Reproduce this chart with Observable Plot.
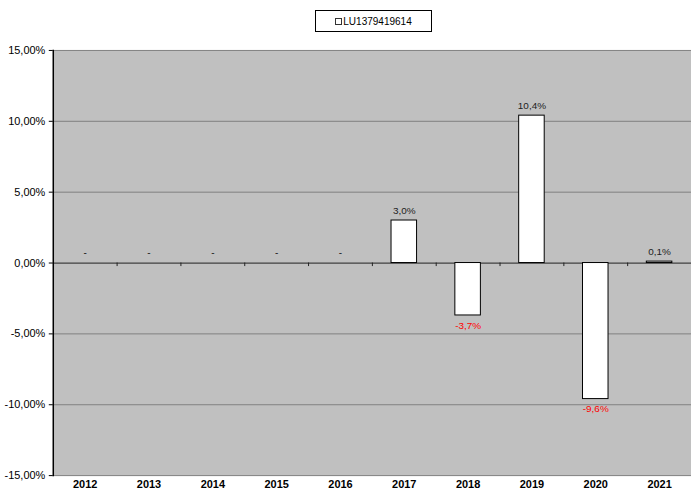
<!DOCTYPE html>
<html><head><meta charset="utf-8">
<script src="https://cdn.jsdelivr.net/npm/d3@7"></script>
<script src="https://cdn.jsdelivr.net/npm/@observablehq/plot@0.6"></script>
<style>
html,body{margin:0;background:#fff;font-family:"Liberation Sans",Arial,sans-serif;overflow:hidden;}
#legend{height:40px;position:relative;}
#legend .box{position:absolute;left:315px;top:10px;width:115px;height:20px;border:1px solid #000;background:#fff;font-size:10px;display:flex;align-items:center;justify-content:center;color:#000;}
#legend .sw{display:inline-block;width:5px;height:5px;border:1px solid #333;background:#fff;margin-right:1px;}
svg{overflow:visible;display:block;}
</style></head><body>
<div id="legend"><div class="box"><span class="sw"></span>LU1379419614</div></div>
<div id="chart"></div>
<script>
const seriesName = "LU1379419614";
const years = ["2012","2013","2014","2015","2016","2017","2018","2019","2020","2021"];
const values = [null, null, null, null, null, 3.0, -3.7, 10.4, -9.6, 0.1];
const yTicks = [-15, -10, -5, 0, 5, 10, 15];

const data = years.map((y, i) => ({year: y, value: values[i]}));
const present = data.filter(d => d.value != null);
const missing = data.filter(d => d.value == null);
const fmtAxis = v => v.toFixed(2).replace(".", ",") + "%";
const fmtVal = v => v.toFixed(1).replace(".", ",") + "%";

const W = 694, H = 450, ML = 53, MR = 0;
const step = (W - ML - MR) / years.length;

const chart = Plot.plot({
  width: W, height: H,
  marginTop: 10, marginBottom: 13, marginLeft: ML, marginRight: MR,
  style: {fontFamily: '"Liberation Sans", Arial, sans-serif', fontSize: "11px", background: "#fff", color: "#000"},
  x: {domain: years, paddingInner: 0.6, paddingOuter: 0.3, round: false, axis: null, label: null},
  y: {domain: [-15, 15], axis: null, label: null},
  marks: [
    Plot.frame({fill: "#c0c0c0", stroke: null}),
    Plot.ruleY(yTicks.filter(t => t !== 0), {stroke: "#808080", strokeWidth: 1}),
    Plot.ruleY([0], {stroke: "#404040", strokeWidth: 1.2}),
    Plot.ruleX(years.slice(1), {x: d => d, y1: 0, y2: -0.25, dx: -step / 2, stroke: "#222"}),
    Plot.barY(present, {x: "year", y: "value", fill: "#fff", stroke: "#000", strokeWidth: 1}),
    Plot.text(present.filter(d => d.value >= 0), {x: "year", y: "value", text: d => fmtVal(d.value), dy: -10, fontSize: 10, fill: "#222"}),
    Plot.text(present.filter(d => d.value < 0), {x: "year", y: "value", text: d => fmtVal(d.value), dy: 10, fontSize: 10, fill: "#ff0000"}),
    Plot.text(missing, {x: "year", y: 0, text: d => "-", dy: -10, fontSize: 10, fill: "#000"}),
    Plot.frame({anchor: "left", stroke: "#000", strokeWidth: 1.5}),
    Plot.axisY({ticks: yTicks, tickFormat: fmtAxis, tickSize: 4, tickPadding: 4, stroke: "#000", fill: "#000", fontSize: 11, label: null}),
    Plot.axisX({tickSize: 0, tickPadding: 5, fontWeight: "bold", fontSize: 11, fill: "#000", label: null})
  ]
});
document.getElementById("chart").appendChild(chart);
</script>
</body></html>
